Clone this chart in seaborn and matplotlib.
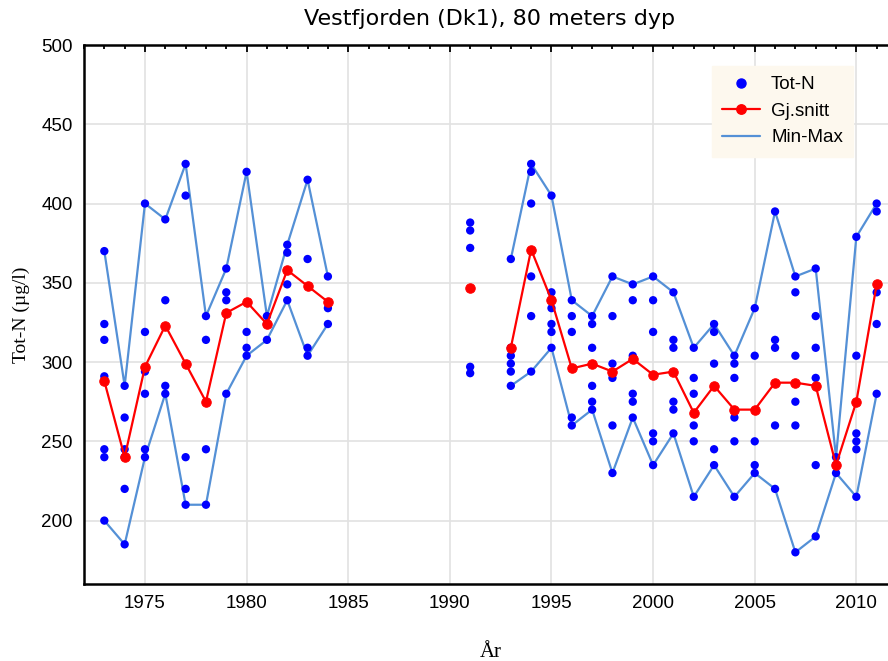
import numpy as np
import pandas as pd
import matplotlib
matplotlib.use("Agg")
import matplotlib.pyplot as plt
from matplotlib.lines import Line2D
from matplotlib.ticker import MultipleLocator
import seaborn as sns

# ── Data ─────────────────────────────────────────────────────────
years = [1973, 1974, 1975, 1976, 1977, 1978, 1979, 1980, 1981, 1982, 1983, 1984,
         1991,
         1993, 1994, 1995, 1996, 1997, 1998, 1999, 2000, 2001, 2002, 2003, 2004,
         2005, 2006, 2007, 2008, 2009, 2010, 2011]

# individual Tot-N samples per year
samples = [
    [370, 324, 314, 291, 245, 240, 200],
    [285, 265, 245, 240, 220, 185],
    [400, 319, 294, 280, 245, 240],
    [390, 339, 285, 280],
    [425, 405, 240, 220, 210],
    [329, 314, 245, 210],
    [359, 344, 339, 280],
    [420, 319, 309, 304],
    [329, 324, 314],
    [374, 369, 349, 339],
    [415, 365, 309, 304],
    [354, 334, 324],
    [388, 383, 372, 297, 293],
    [365, 309, 304, 299, 294, 285],
    [425, 420, 400, 354, 329, 294],
    [405, 344, 339, 334, 324, 319, 309],
    [339, 329, 319, 265, 260],
    [329, 324, 309, 285, 275, 270],
    [354, 329, 299, 290, 260, 230],
    [349, 339, 304, 280, 275, 265],
    [354, 339, 319, 255, 250, 235],
    [344, 314, 309, 275, 270, 255],
    [309, 290, 280, 260, 250, 215],
    [324, 319, 299, 245, 235],
    [304, 299, 290, 265, 250, 215],
    [334, 304, 250, 235, 230],
    [395, 314, 309, 260, 220],
    [354, 344, 304, 275, 260, 180],
    [359, 329, 309, 290, 235, 190],
    [240, 235, 230],
    [379, 304, 255, 250, 245, 215],
    [400, 395, 344, 324, 280],
]

# yearly mean (Gj.snitt)
mean_vals = [288, 240, 297, 323, 299, 275, 331, 338, 324, 358, 348, 338,
             347,
             309, 371, 339, 296, 299, 294, 302, 292, 294, 268, 285, 270,
             270, 287, 287, 285, 235, 275, 349]

# continuous runs of years (lines break between them)
segment = [1] * 12 + [2] + [3] * 19

# ── Build frames ─────────────────────────────────────────────────
dots = pd.DataFrame([(y, v) for y, vals in zip(years, samples) for v in vals],
                    columns=["year", "totn"])
yearly = pd.DataFrame({"year": years, "mean": mean_vals, "seg": segment})
yearly["min"] = [min(v) for v in samples]
yearly["max"] = [max(v) for v in samples]

# ── Plot ─────────────────────────────────────────────────────────
sns.set_style("white")
plt.rcParams["font.family"] = ["Liberation Sans", "DejaVu Sans"]
plt.rcParams["text.color"] = "black"
plt.rcParams["axes.labelcolor"] = "black"
plt.rcParams["xtick.color"] = "black"
plt.rcParams["ytick.color"] = "black"

fig = plt.figure(figsize=(8.88, 6.61), dpi=100)
ax = fig.add_axes([84 / 888, 1 - 584 / 661, 813 / 888, 539 / 661])

minmax_color = "#5490d6"
for col in ["max", "min"]:
    sns.lineplot(data=yearly, x="year", y=col, units="seg", estimator=None,
                 color=minmax_color, linewidth=1.6, ax=ax, zorder=2,
                 legend=False)

sns.scatterplot(data=dots, x="year", y="totn", color="#0000ff", s=36,
                edgecolor="none", ax=ax, zorder=3, legend=False)

sns.lineplot(data=yearly, x="year", y="mean", units="seg", estimator=None,
             color="#ff0000", linewidth=1.6, marker="o", markersize=6.8,
             markeredgecolor="#ff0000", ax=ax, zorder=4, legend=False)

ax.set_xlim(1972, 2012)
ax.set_ylim(160, 500)
ax.xaxis.set_major_locator(MultipleLocator(5))
ax.xaxis.set_minor_locator(MultipleLocator(1))
ax.yaxis.set_major_locator(MultipleLocator(50))
ax.yaxis.set_minor_locator(MultipleLocator(10))
ax.tick_params(which="both", direction="in", top=True, right=True,
               color="black", labelcolor="black", width=1.3)
ax.tick_params(which="major", length=5, labelsize=13.5, pad=8)
ax.tick_params(which="minor", length=3)
ax.grid(True, which="major", color="#e2e2e2", linewidth=1.2)
ax.set_axisbelow(True)
for sp in ax.spines.values():
    sp.set_color("black")
    sp.set_linewidth(1.8)

ax.set_xlabel("År", family=["Liberation Serif"], fontsize=15, labelpad=22,
              color="black")
ax.set_ylabel("Tot-N (µg/l)", family=["Liberation Serif"], fontsize=14,
              labelpad=8, color="black")
fig.text(490 / 888, 1 - 19 / 661, "Vestfjorden (Dk1), 80 meters dyp",
         ha="center", va="center", fontsize=16, family=["DejaVu Sans"],
         color="black")

handles = [
    Line2D([], [], linestyle="none", marker="o", color="#0000ff",
           markersize=6.5),
    Line2D([], [], color="#ff0000", marker="o", markersize=6.8, linewidth=1.6),
    Line2D([], [], color=minmax_color, linewidth=1.6),
]
leg = ax.legend(handles, ["Tot-N", "Gj.snitt", "Min-Max"], loc="upper left",
                bbox_to_anchor=((712 - 84) / 813, 1 - (66 - 45) / 539),
                borderaxespad=0, fontsize=13.5, frameon=True, fancybox=False,
                borderpad=0.55, handlelength=2.0, handletextpad=0.6,
                labelspacing=0.5)
leg.get_frame().set_facecolor("#fdf8ee")
leg.get_frame().set_edgecolor("#fdf8ee")
leg.get_frame().set_alpha(1)
for t in leg.get_texts():
    t.set_color("black")

fig.savefig("out.png", dpi=100)
